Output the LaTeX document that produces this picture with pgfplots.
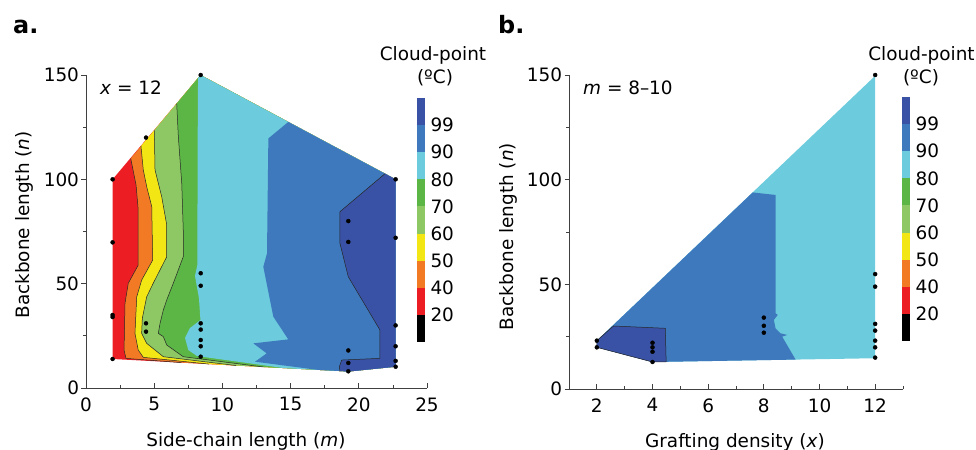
\documentclass[border=0pt]{standalone}
\usepackage{pgfplots}
\pgfplotsset{compat=1.18}
\usepackage{fontspec}
\setmainfont{DejaVu Sans}[ItalicFont={DejaVu Sans Oblique},BoldFont={DejaVu Sans Bold}]
\definecolor{cRed}{RGB}{236,30,36}
\definecolor{cOrange}{RGB}{242,122,36}
\definecolor{cYellow}{RGB}{242,230,20}
\definecolor{cLGreen}{RGB}{142,200,100}
\definecolor{cGreen}{RGB}{92,182,70}
\definecolor{cCyan}{RGB}{108,203,220}
\definecolor{cBlue}{RGB}{62,121,190}
\definecolor{cDBlue}{RGB}{58,82,166}
\newcommand{\fs}{\fontsize{18.5}{22}\selectfont}
\pgfplotsset{
  panel/.style={scale only axis, axis lines*=left, clip=false,
    axis line style={draw=black!75, line width=0.9bp},
    tick style={black!75, line width=0.8bp},
    major tick length=4.5bp, minor tick length=3bp,
    xtick align=inside, ytick align=outside,
    tick label style={font=\fs},
    /pgf/number format/assume math mode=true,
    ymin=0, ymax=150, ytick={0,50,100,150}, minor ytick={25,75,125},
    xticklabel style={yshift=-6bp},
    yticklabel style={xshift=1bp},
  },
  cbar/.style={scale only axis, width=8bp, height=244bp,
    xmin=0, xmax=1, ymin=0, ymax=9, hide x axis, axis y line*=right,
    axis line style={draw=none}, major tick length=0pt, tick style={draw=none},
    ytick={1,...,8}, yticklabels={20,40,50,60,70,80,90,99},
    tick label style={font=\fs}, yticklabel style={anchor=west, xshift=2bp},
  },
  contour/.style={black!85, line width=0.5bp},
  dots/.style={only marks, mark=*, mark size=2bp, black},
}
\begin{document}
\begin{tikzpicture}
\useasboundingbox (0,0) rectangle (976bp,450bp);
% ---------------- panel a ----------------
\begin{axis}[panel, at={(86bp,62bp)}, anchor=south west, width=341bp, height=313bp,
  xmin=0, xmax=25, xtick={0,5,...,25}, minor xtick={2.5,7.5,...,22.5},
  xlabel={Side-chain length (\textit{m})}, ylabel={Backbone length (\textit{n})},
  every axis x label/.style={at={(axis description cs:0.469,-0.188)}, anchor=base, font=\fs},
  every axis y label/.style={at={(axis description cs:-0.167,0.521)}, rotate=90, anchor=base, font=\fs}]
\addplot[fill=cRed, draw=none] coordinates {(1.95,100)(8.4,150)(22.7,100)(22.7,10.2)(19.25,7.9)(1.95,13.9)} -- cycle;
\addplot[fill=cOrange, draw=none] coordinates {(3.28,110)(3.67,97.3)(3.83,85.4)(3.83,58.9)(3.10,50.2)(2.86,40.6)(2.79,18.2)(2.93,14.2)(7.0,12.16)(19.25,7.9)(22.7,10.2)(22.7,100)(8.4,150)} -- cycle;
\addplot[fill=cYellow, draw=none] coordinates {(4.03,115.9)(4.20,104.5)(4.45,96.5)(4.82,86.9)(4.89,61.3)(4.08,51.7)(3.72,43.7)(3.59,26.2)(3.83,18.2)(4.20,14.7)(9.0,11.47)(19.25,7.9)(22.7,10.2)(22.7,100)(8.4,150)} -- cycle;
\addplot[fill=cLGreen, draw=none] coordinates {(5.01,123.5)(5.06,104.5)(5.55,91.7)(5.92,78.1)(5.92,62.9)(4.93,50.2)(4.45,43.7)(4.13,33.4)(4.08,26.2)(4.45,21.4)(5.67,15.0)(11,10.77)(19.25,7.9)(22.7,10.2)(22.7,100)(8.4,150)} -- cycle;
\addplot[fill=cGreen, draw=none] coordinates {(6.65,136.3)(6.77,120.4)(7.02,98.1)(7.13,75.7)(7.13,62.9)(6.40,50.2)(5.92,42.2)(5.67,37.4)(5.43,31.0)(5.30,26.2)(5.67,24.6)(5.92,20.6)(7.13,15.0)(13,10.07)(19.25,7.9)(22.7,10.2)(22.7,100)(8.4,150)} -- cycle;
\addplot[fill=cCyan, draw=none] coordinates {(8.22,148.6)(8.2,140)(8.16,58.9)(7.99,53.7)(8.28,43.1)(8.39,32.6)(7.62,28.7)(7.26,24.0)(7.50,18.2)(8.14,15.3)(14.5,9.55)(19.25,7.9)(22.7,10.2)(22.7,100)(8.4,150)} -- cycle;
\addplot[fill=cBlue, draw=none] coordinates {(14.83,127.5)(13.37,119.6)(13.27,64.5)(13.0,58.1)(13.73,34.2)(14.83,23.3)(12.27,21.4)(13.25,16.6)(12.39,12.6)(17,8.68)(19.25,7.9)(22.7,10.2)(22.7,100)} -- cycle;
\addplot[fill=cDBlue, draw=none] coordinates {(21.92,102.7)(18.62,84.5)(18.62,69.3)(19.23,53.3)(21.55,27.8)(21.55,14.2)(18.75,13.4)(18.57,10.2)(18.62,8.12)(19.25,7.9)(22.7,10.2)(22.7,100)} -- cycle;
% contour lines
\addplot[contour] coordinates {(3.28,110)(3.67,97.3)(3.83,85.4)(3.83,58.9)(3.10,50.2)(2.86,40.6)(2.79,18.2)(2.93,14.2)(7.0,12.16)};
\addplot[contour] coordinates {(4.03,115.9)(4.20,104.5)(4.45,96.5)(4.82,86.9)(4.89,61.3)(4.08,51.7)(3.72,43.7)(3.59,26.2)(3.83,18.2)(4.20,14.7)(9.0,11.47)};
\addplot[contour] coordinates {(5.01,123.5)(5.06,104.5)(5.55,91.7)(5.92,78.1)(5.92,62.9)(4.93,50.2)(4.45,43.7)(4.13,33.4)(4.08,26.2)(4.45,21.4)(5.67,15.0)(11,10.77)};
\addplot[contour] coordinates {(6.65,136.3)(6.77,120.4)(7.02,98.1)(7.13,75.7)(7.13,62.9)(6.40,50.2)(5.92,42.2)(5.67,37.4)(5.43,31.0)(5.30,26.2)(5.67,24.6)(5.92,20.6)(7.13,15.0)(13,10.07)};
\addplot[contour] coordinates {(21.92,102.7)(18.62,84.5)(18.62,69.3)(19.23,53.3)(21.55,27.8)(21.55,14.2)(18.75,13.4)(18.57,10.2)(18.62,8.12)};
\addplot[dots] coordinates {(1.95,100)(1.95,69.8)(1.95,35)(1.95,34)(1.95,13.9)
 (4.4,120)(4.4,31)(4.4,27)
 (8.41,150)(8.41,55)(8.41,49)(8.41,31)(8.41,28)(8.41,23)(8.41,20)(8.41,15)
 (19.23,80)(19.23,70)(19.23,18)(19.23,12)(19.23,8)
 (22.7,100)(22.7,72)(22.7,30)(22.7,20)(22.7,13)(22.7,10.2)};
\end{axis}
\begin{axis}[cbar, at={(417bp,108bp)}, anchor=south west]
\addplot[fill=black, draw=none] coordinates {(0,0)(1,0)(1,1)(0,1)} -- cycle;
\addplot[fill=cRed, draw=none] coordinates {(0,1)(1,1)(1,2)(0,2)} -- cycle;
\addplot[fill=cOrange, draw=none] coordinates {(0,2)(1,2)(1,3)(0,3)} -- cycle;
\addplot[fill=cYellow, draw=none] coordinates {(0,3)(1,3)(1,4)(0,4)} -- cycle;
\addplot[fill=cLGreen, draw=none] coordinates {(0,4)(1,4)(1,5)(0,5)} -- cycle;
\addplot[fill=cGreen, draw=none] coordinates {(0,5)(1,5)(1,6)(0,6)} -- cycle;
\addplot[fill=cCyan, draw=none] coordinates {(0,6)(1,6)(1,7)(0,7)} -- cycle;
\addplot[fill=cBlue, draw=none] coordinates {(0,7)(1,7)(1,8)(0,8)} -- cycle;
\addplot[fill=cDBlue, draw=none] coordinates {(0,8)(1,8)(1,9)(0,9)} -- cycle;
\end{axis}
% ---------------- panel b ----------------
\begin{axis}[panel, at={(569bp,61bp)}, anchor=south west, width=334bp, height=314bp,
  xmin=1, xmax=13, xtick={2,4,...,12}, minor xtick={1,3,...,13},
  xlabel={Grafting density (\textit{x})}, ylabel={Backbone length (\textit{n})},
  every axis x label/.style={at={(axis description cs:0.497,-0.185)}, anchor=base, font=\fs},
  every axis y label/.style={at={(axis description cs:-0.165,0.485)}, rotate=90, anchor=base, font=\fs}]
\addplot[fill=cCyan, draw=none] coordinates {(2,23.1)(12,149.6)(12,14.7)(4.49,13.0)(4.0,12.9)(2,19.9)} -- cycle;
\addplot[fill=cBlue, draw=none] coordinates {(2,23.1)(7.6,93.9)(8.42,92.7)(8.42,36.2)(8.5,35.4)(8.36,33.0)(8.42,29.0)(8.6,26.6)(8.84,25.8)(8.66,25.0)(9.14,14.05)(4.49,13.0)(4.0,12.9)(2,19.9)} -- cycle;
\addplot[fill=cDBlue, draw=black!85, line width=0.5bp] coordinates {(2,19.9)(2,23.1)(2.6,30.1)(4.46,29.0)(4.49,13.0)(4.0,12.9)} -- cycle;
\addplot[dots] coordinates {(2,23.1)(2,19.9)(4,22.1)(4,19.9)(4,17.8)(4,12.9)
 (8,34.1)(8,30.2)(8,26.9)
 (12,150)(12,54.9)(12,48.9)(12,31.1)(12,27.9)(12,23.1)(12,19.9)(12,15.0)};
\end{axis}
\begin{axis}[cbar, at={(902bp,109bp)}, anchor=south west]
\addplot[fill=black, draw=none] coordinates {(0,0)(1,0)(1,1)(0,1)} -- cycle;
\addplot[fill=cRed, draw=none] coordinates {(0,1)(1,1)(1,2)(0,2)} -- cycle;
\addplot[fill=cOrange, draw=none] coordinates {(0,2)(1,2)(1,3)(0,3)} -- cycle;
\addplot[fill=cYellow, draw=none] coordinates {(0,3)(1,3)(1,4)(0,4)} -- cycle;
\addplot[fill=cLGreen, draw=none] coordinates {(0,4)(1,4)(1,5)(0,5)} -- cycle;
\addplot[fill=cGreen, draw=none] coordinates {(0,5)(1,5)(1,6)(0,6)} -- cycle;
\addplot[fill=cCyan, draw=none] coordinates {(0,6)(1,6)(1,7)(0,7)} -- cycle;
\addplot[fill=cBlue, draw=none] coordinates {(0,7)(1,7)(1,8)(0,8)} -- cycle;
\addplot[fill=cDBlue, draw=none] coordinates {(0,8)(1,8)(1,9)(0,9)} -- cycle;
\end{axis}
% ---------------- texts ----------------
\node[anchor=base west, inner sep=0pt, font=\fontsize{24}{28}\selectfont\bfseries] at (13bp,416.5bp) {a.};
\node[anchor=base west, inner sep=0pt, font=\fontsize{24}{28}\selectfont\bfseries] at (498bp,416.5bp) {b.};
\node[anchor=base west, inner sep=0pt, font=\fs] at (100bp,355bp) {\textit{x} = 12};
\node[anchor=base west, inner sep=0pt, font=\fs] at (583bp,355bp) {\textit{m} = 8–10};
\node[anchor=base, inner sep=0pt, font=\fs] at (433bp,389.5bp) {Cloud-point};
\node[anchor=base, inner sep=0pt, font=\fs] at (435bp,366bp) {(ºC)};
\node[anchor=base, inner sep=0pt, font=\fs] at (921.5bp,389.5bp) {Cloud-point};
\node[anchor=base, inner sep=0pt, font=\fs] at (921bp,366bp) {(ºC)};
\end{tikzpicture}
\end{document}
